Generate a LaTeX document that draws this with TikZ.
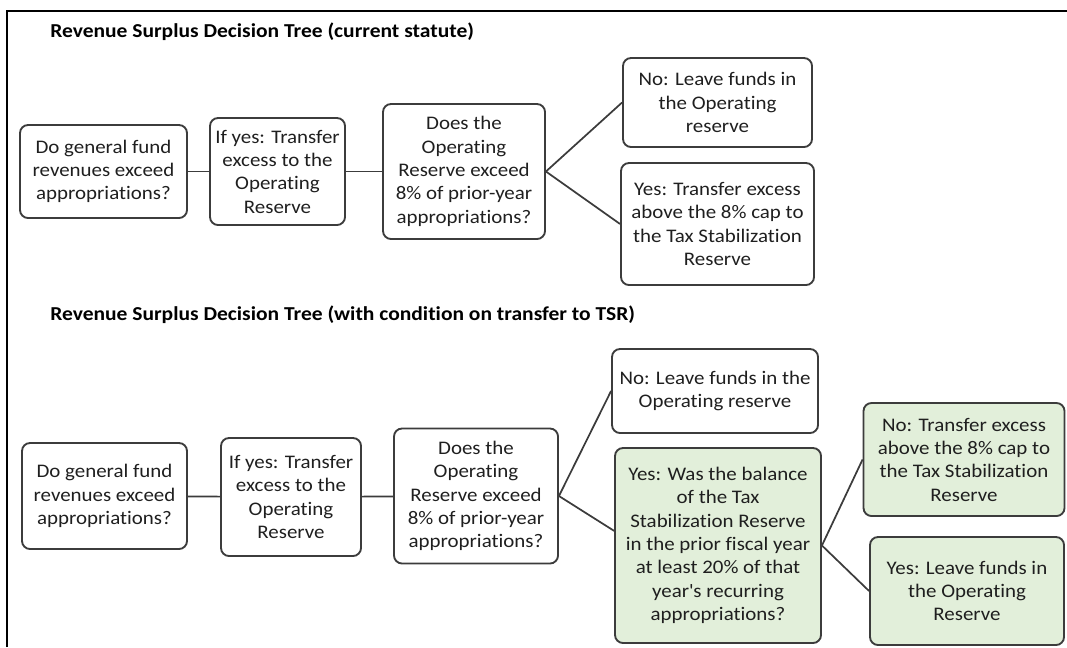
\documentclass[tikz,border=0pt]{standalone}
\usepackage{fontspec}
\setmainfont[FakeStretch=1.09, Ligatures=NoCommon]{Carlito}
\usepackage{xcolor}
\usepackage{tikz}
\usetikzlibrary{positioning}
\definecolor{boxgray}{RGB}{60,60,60}
\definecolor{tsrgreen}{RGB}{226,239,218}
\newcommand{\treefont}{\fontsize{14.4pt}{17.5pt}\selectfont}
\newcommand{\titlefont}{\fontsize{14.8pt}{17.5pt}\selectfont\bfseries}
\tikzstyle{treebox} = [draw=boxgray, rectangle, rounded corners=6pt, align=center, line width=1.4pt, inner sep=2pt, text=black!88, font=\treefont]
\tikzstyle{greenbox} = [treebox, fill=tsrgreen]
\tikzstyle{branch} = [line width=1.3pt, color=boxgray]
\tikzstyle{treetitle} = [anchor=base west, inner sep=0pt, font=\titlefont]
\tikzset{boxsize/.style 2 args={minimum width=#1*0.75pt, minimum height=#2*0.75pt}}

\begin{document}
\begin{tikzpicture}[x=0.75pt, y=-0.75pt]
    \useasboundingbox (0,0) rectangle (1067,647);
    \draw [line width=1.6pt] (7,647) -- (7,11) -- (1067,11);
    % current statute
    \node (title1) [treetitle] at (50,37) {Revenue Surplus Decision Tree (current statute)};
    \node (a1) [treebox, boxsize={167}{93}] at (103.5,171.5) {Do general fund\\revenues exceed\\appropriations?};
    \node (b1) [treebox, boxsize={135}{107}] at (277.5,171.5) {If yes: Transfer\\excess to the\\Operating\\Reserve};
    \node (c1) [treebox, boxsize={162}{135}] at (464,171.5) {Does the\\Operating\\Reserve exceed\\8\% of prior-year\\appropriations?};
    \node (d1) [treebox, boxsize={189}{89}] at (717.5,102.5) {No: Leave funds in\\the Operating\\reserve};
    \node (e1) [treebox, boxsize={193}{122}] at (717.5,224) {Yes: Transfer excess\\above the 8\% cap to\\the Tax Stabilization\\Reserve};
    \draw [branch] (a1) -- (b1) -- (c1);
    \draw [branch] (c1.east) -- (d1.west);
    \draw [branch] (c1.east) -- (e1.west);
    % with condition on transfer to TSR
    \node (title2) [treetitle] at (50,320) {Revenue Surplus Decision Tree (with condition on transfer to TSR)};
    \node (a2) [treebox, boxsize={165}{106}] at (104.5,496) {Do general fund\\revenues exceed\\appropriations?};
    \node (b2) [treebox, boxsize={140}{118}] at (291,497) {If yes: Transfer\\excess to the\\Operating\\Reserve};
    \node (c2) [treebox, boxsize={164}{135}] at (476,496) {Does the\\Operating\\Reserve exceed\\8\% of prior-year\\appropriations?};
    \node (d2) [treebox, boxsize={206}{84}] at (715,391) {No: Leave funds in the\\Operating reserve};
    \node (e2) [greenbox, boxsize={206}{195}] at (718,545.5) {Yes: Was the balance\\of the Tax\\Stabilization Reserve\\in the prior fiscal year\\at least 20\% of that\\year\textquotesingle s recurring\\appropriations?};
    \node (f2) [greenbox, boxsize={201}{113}] at (964,459.5) {No: Transfer excess\\above the 8\% cap to\\the Tax Stabilization\\Reserve};
    \node (g2) [greenbox, boxsize={194}{108}] at (967,591) {Yes: Leave funds in\\the Operating\\Reserve};
    \draw [branch] (a2) -- (b2) -- (c2);
    \draw [branch] (c2.east) -- (d2.west);
    \draw [branch] (c2.east) -- ([yshift=11pt]e2.west);
    \draw [branch] (e2.east) -- (f2.west);
    \draw [branch] (e2.east) -- (g2.west);
\end{tikzpicture}
\end{document}
